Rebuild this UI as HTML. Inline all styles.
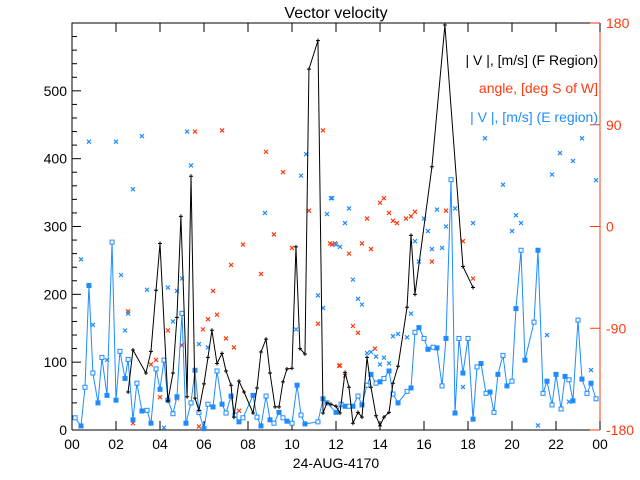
<!DOCTYPE html>
<html><head><meta charset="utf-8"><style>
html,body{margin:0;padding:0;background:#fff;}
svg{display:block;font-family:"Liberation Sans",sans-serif;}
</style></head><body>
<svg id="chart" width="640" height="480" xmlns="http://www.w3.org/2000/svg">
<rect width="640" height="480" fill="#fff"/>
<text x="336" y="18" font-size="16" text-anchor="middle">Vector velocity</text>
<g id="axes"></g>
<g id="marks"></g>
<text x="598" y="65" font-size="14" text-anchor="end" fill="#000">| V |, [m/s] (F Region)</text>
<text x="598" y="93" font-size="14" text-anchor="end" fill="#ff3a10">angle, [deg S of W]</text>
<text x="598" y="122" font-size="14" text-anchor="end" fill="#1e8cff">| V |, [m/s] (E region)</text>
<text x="336" y="468" font-size="14" text-anchor="middle">24-AUG-4170</text>
</svg>
<script>
const fHours=[2.55,2.77,3.36,3.59,3.82,4.0,4.36,4.59,4.77,4.95,5.23,5.41,5.59,5.77,6.0,6.18,6.36,6.59,6.82,7.0,7.23,7.36,7.59,7.82,8.23,8.41,8.59,8.82,9.0,9.23,9.41,9.59,9.77,10.0,10.18,10.36,10.59,10.77,11.18,11.41,11.59,11.77,12.0,12.18,12.41,12.59,12.77,13.0,13.18,13.41,13.59,13.82,14.0,14.18,14.41,14.59,14.82,15.23,15.41,15.59,16.36,16.95,17.77,18.23];
const fValues=[56,118,84,116,206,275,43,84,166,315,49,374,47,29,68,107,147,98,113,87,66,19,72,56,25,62,115,134,84,34,34,71,90,91,270,120,112,532,574,25,40,38,35,25,85,63,10,26,19,107,63,21,6,19,26,69,94,181,287,200,388,597,241,210];
const eHours=[0.14,0.41,0.59,0.77,0.95,1.18,1.36,1.59,1.82,2.0,2.18,2.41,2.55,2.77,2.95,3.18,3.41,3.59,3.82,4.0,4.18,4.36,4.59,4.77,5.0,5.18,5.41,5.59,5.77,6.0,6.18,6.41,6.59,6.82,7.0,7.23,7.41,7.59,7.77,8.23,8.41,8.59,8.82,9.0,9.18,9.41,9.59,9.77,10.0,10.23,10.41,10.59,11.18,11.41,11.59,12.0,12.23,12.41,12.59,12.77,13.0,13.18,13.41,13.59,13.82,14.0,14.18,14.41,14.59,14.82,15.23,15.41,15.59,15.77,16.0,16.18,16.41,16.59,16.82,17.0,17.23,17.41,17.59,17.77,18.0,18.23,18.41,18.59,18.82,19.0,19.18,19.36,19.59,19.77,20.0,20.18,20.41,20.59,21.0,21.18,21.41,21.59,21.82,22.0,22.23,22.41,22.59,22.77,23.0,23.18,23.41,23.59,23.82];
const eValues=[18,6,63,213,84,40,107,51,277,44,116,76,104,15,69,28,29,10,90,60,103,44,24,49,172,10,40,88,26,2,38,34,87,38,25,50,22,12,18,51,19,6,50,15,10,26,18,13,10,66,22,9,12,46,40,26,38,35,35,35,50,37,66,82,69,71,76,87,53,40,57,62,144,151,135,119,122,121,65,135,369,25,135,84,135,16,93,98,54,56,26,82,110,65,72,179,265,103,159,265,54,72,37,82,31,79,74,43,162,75,54,69,46];
const angHours=[2.55,2.77,3.59,3.82,4.0,4.36,4.77,5.0,5.77,5.95,6.18,6.41,6.59,7.0,7.23,7.36,7.59,7.77,8.59,9.18,10.0,11.18,11.82,12.14,5.59,6.82,8.82,9.59,10.77,11.41,13.41,14.0,14.18,14.41,14.59,14.77,15.18,15.41,15.59,17.0,11.73,11.95,12.59,13.18,13.59,12.18,12.41,12.77,13.0,13.77,17.77,16.36,18.23];
const angValues=[-75,-174,-122,-118,-151,-92,-152,-105,-177,-91,-82,-57,-78,-99,-34,-107,-163,-16,-42,-7,-19,-86,-16,-123,84,85,66,48,14,85,7,21,25,12,5,3,7,9,13,14,-15,-15,-24,-15,-20,-123,-132,-88,-94,-108,-13,-31,-46];
const eAngHours=[0.77,2.0,3.18,2.77,5.23,5.41,8.77,10.64,10.41,11.82,11.59,0.41,0.95,1.59,2.23,2.41,2.55,3.41,4.36,4.59,4.77,5.0,5.77,6.18,4.18,10.18,11.18,11.41,12.0,12.18,12.77,13.0,13.18,13.41,13.59,13.82,14.0,14.18,14.41,14.59,14.82,15.23,15.41,15.59,15.77,16.18,16.36,16.82,17.77,20.0,21.18,21.59,22.59,23.59,11.77,12.41,12.59,16.0,16.59,17.0,17.41,18.23,18.77,19.59,20.18,20.41,21.82,22.18,22.77,23.18,23.82];
const eAngValues=[75,75,80,33,84,54,12,64,45,25,11,-29,-87,-118,-43,-92,-77,-56,-54,-84,-57,-46,-104,-107,-178,-91,-61,-72,-16,-18,-47,-64,-69,-112,-111,-115,-122,-116,-121,-97,-95,-98,-77,-13,-31,-4,-20,-19,-142,-4,-176,-96,-155,-127,25,3,16,7,15,0,16,3,78,37,10,3,46,65,58,78,41];
const xTicks=["00","02","04","06","08","10","12","14","16","18","20","22","00"];
const yTicks=[0,100,200,300,400,500];
const rTicks=[-180,-90,0,90,180];

const NS="http://www.w3.org/2000/svg";
const L=72,R=600,T=23,B=430;
const xs=h=>L+(R-L)*h/24;
const ys=v=>B-(B-T)*v/600;
const ya=d=>B-(B-T)*(d+180)/360;
const RED="#ff3a10",BLUE="#1e8cff";
const axes=document.getElementById('axes'),marks=document.getElementById('marks');
function mk(tag,attrs,parent){const e=document.createElementNS(NS,tag);for(const k in attrs)e.setAttribute(k,attrs[k]);parent.appendChild(e);return e;}

// frame
let el=mk('path',{d:`M${L},${B}V${T}H${R}`,stroke:'#000',fill:'none','stroke-width':1},axes);


el=mk('line',{x1:L,y1:B,x2:R,y2:B,stroke:'#000'},axes);


el=mk('line',{x1:R,y1:T,x2:R,y2:B,stroke:RED},axes);


// x ticks
xTicks.forEach((t,i)=>{const x=xs(i*2);
 mk('line',{x1:x,y1:B,x2:x,y2:B-9,stroke:'#000'},axes);
 mk('line',{x1:x,y1:T,x2:x,y2:T+9,stroke:'#000'},axes);
 const tx=mk('text',{x:x,y:B+19,'font-size':14,'text-anchor':'middle'},axes);tx.textContent=t;
 
 
});
// y minor ticks
for(let v=0;v<=600;v+=20){const y=ys(v);const big=v%100===0;
 mk('line',{x1:L,y1:y,x2:L+(big?9:5),y2:y,stroke:'#000'},axes);}
yTicks.forEach(v=>{const tx=mk('text',{x:L-5,y:ys(v)+5,'font-size':14,'text-anchor':'end'},axes);tx.textContent=v;
 
 
});
rTicks.forEach(d=>{const y=ya(d);mk('line',{x1:R-10,y1:y,x2:R,y2:y,stroke:RED},axes);
 const tx=mk('text',{x:R+6,y:y+5,'font-size':14,fill:RED},axes);tx.textContent=d;
 
 
});
// angle x markers
function cross(x,y,c){mk('path',{d:`M${x-2},${y-2}L${x+2},${y+2}M${x-2},${y+2}L${x+2},${y-2}`,stroke:c,'stroke-width':1.2},marks);}
angHours.forEach((h,i)=>cross(xs(h),ya(angValues[i]),RED));
eAngHours.forEach((h,i)=>cross(xs(h),ya(eAngValues[i]),BLUE));
// E region line
el=mk('polyline',{points:eHours.map((h,i)=>xs(h)+','+ys(eValues[i])).join(' '),fill:'none',stroke:BLUE,'stroke-width':1},marks);


eHours.forEach((h,i)=>{mk('rect',{x:xs(h)-2,y:ys(eValues[i])-2,width:4,height:4,fill:i%2?BLUE:'#fff',stroke:BLUE,'stroke-width':1},marks);});
// F region line
el=mk('polyline',{points:fHours.map((h,i)=>xs(h)+','+ys(fValues[i])).join(' '),fill:'none',stroke:'#000','stroke-width':1},marks);


fHours.forEach((h,i)=>{const x=xs(h),y=ys(fValues[i]);mk('path',{d:`M${x-2},${y}H${x+2}M${x},${y-2}V${y+2}`,stroke:'#000'},marks);});
</script>
</body></html>
